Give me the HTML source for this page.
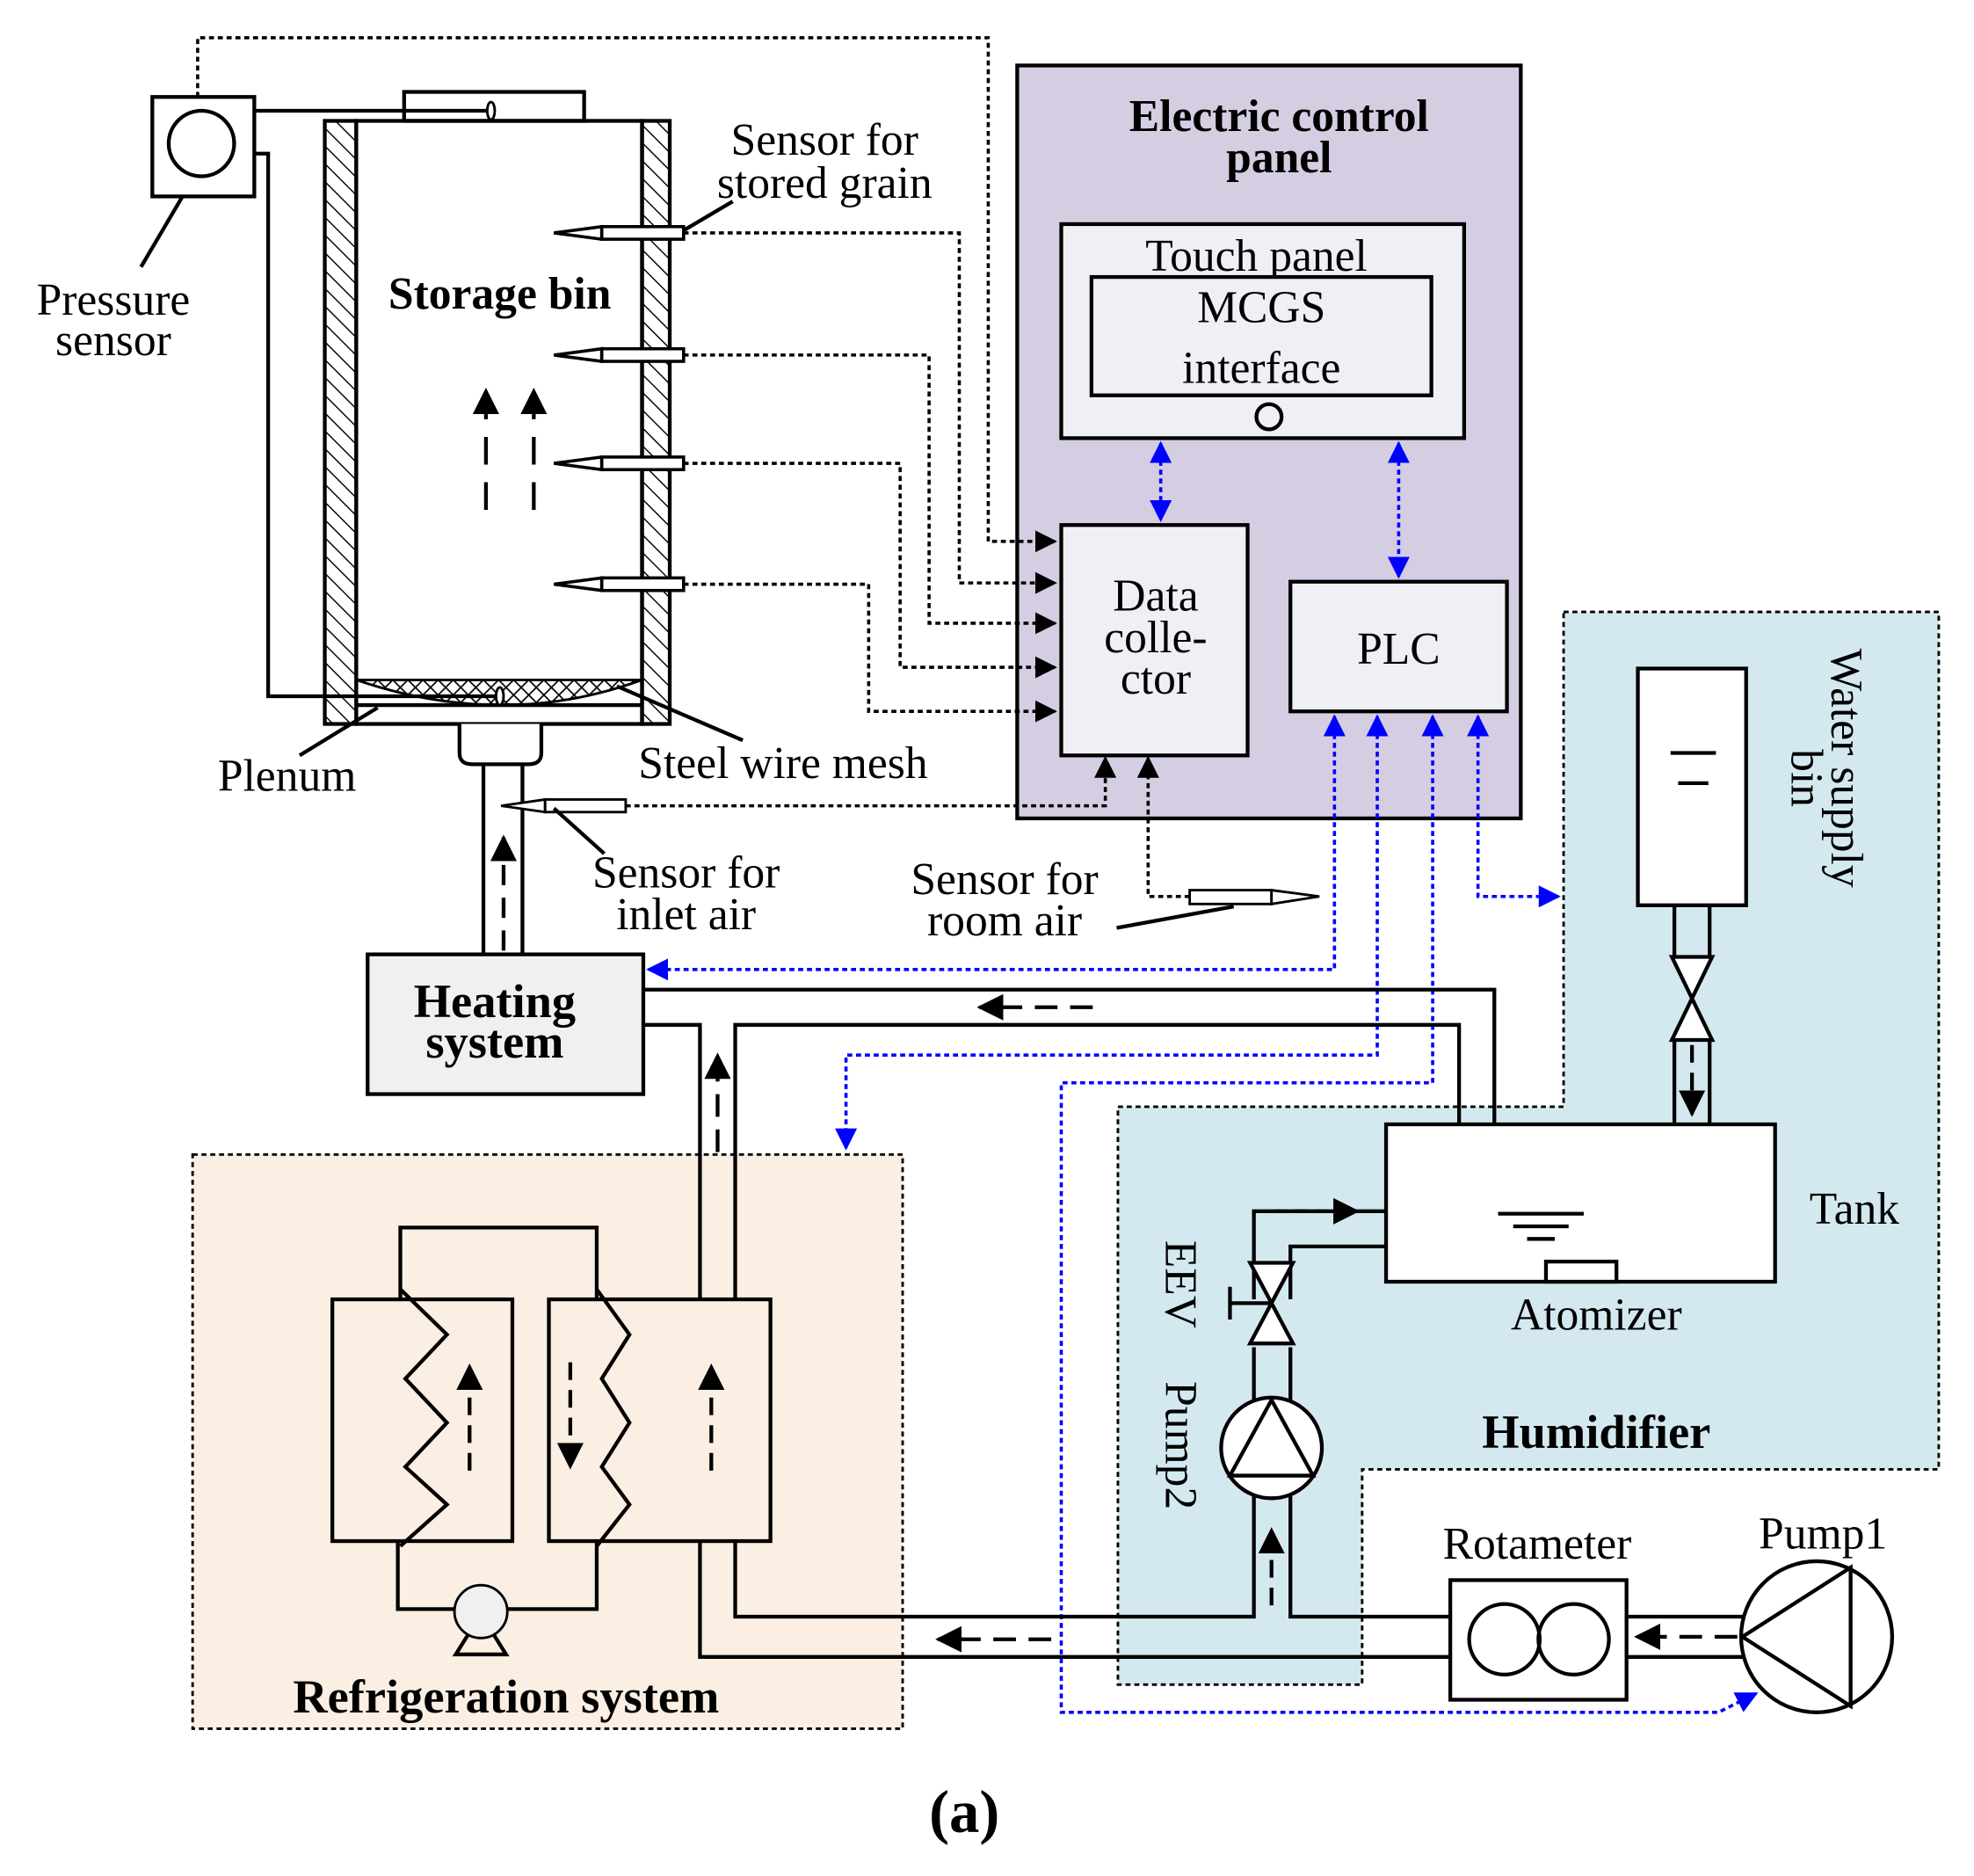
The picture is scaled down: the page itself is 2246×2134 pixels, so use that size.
<!DOCTYPE html>
<html><head><meta charset="utf-8"><style>
html,body{margin:0;padding:0;background:#fff}
svg{display:block}
text{font-family:"Liberation Serif","Times New Roman",serif;fill:#000}
</style></head><body>
<svg width="2246" height="2134" viewBox="0 0 1568 1490" preserveAspectRatio="none" font-family="Liberation Serif, serif" xmlns="http://www.w3.org/2000/svg">
<defs>
<marker id="ab" viewBox="0 0 10 10" refX="9" refY="5" markerWidth="7" markerHeight="7" orient="auto-start-reverse"><path d="M0,0 L10,5 L0,10 z" fill="#000"/></marker>
<marker id="bb" viewBox="0 0 10 10" refX="9" refY="5" markerWidth="7" markerHeight="7" orient="auto-start-reverse"><path d="M0,0 L10,5 L0,10 z" fill="#00f"/></marker>
<pattern id="hatch" width="10" height="10" patternUnits="userSpaceOnUse" patternTransform="rotate(-45)"><rect width="10" height="10" fill="#fff"/><line x1="0" y1="0" x2="0" y2="10" stroke="#000" stroke-width="2"/></pattern>
<pattern id="mesh" width="12" height="12" patternUnits="userSpaceOnUse"><path d="M0,0 L12,12 M12,0 L0,12" stroke="#000" stroke-width="1.2"/></pattern>
</defs>
<rect x="808" y="52" width="400" height="598" fill="#d5cde1" stroke="#000" stroke-width="3"/>
<path d="M1242,486 H1540 V1167 H1082 V1338 H888 V879 H1242 Z" fill="#d3e9ef" stroke="#000" stroke-width="2" stroke-dasharray="4,3"/>
<rect x="153" y="917" width="564" height="456" fill="#fbeee3" stroke="#000" stroke-width="2" stroke-dasharray="4,3"/>

<rect x="121" y="77" width="81" height="79" fill="#fff" stroke="#000" stroke-width="3"/>
<circle cx="160" cy="114" r="26" fill="none" stroke="#000" stroke-width="3"/>
<line x1="145" y1="156" x2="112" y2="212" stroke="#000" stroke-width="3"/>
<text x="90" y="250" font-size="36" text-anchor="middle">Pressure</text>
<text x="90" y="282" font-size="36" text-anchor="middle">sensor</text>
<path d="M157,77 V30 H785 V430 H838" fill="none" stroke="#000" stroke-width="2.5" stroke-dasharray="4,3" marker-end="url(#ab)"/>

<rect x="321" y="73" width="143" height="23" fill="#fff" stroke="#000" stroke-width="3"/>
<rect x="258" y="96" width="25" height="479" fill="url(#hatch)" stroke="#000" stroke-width="3"/>
<rect x="510" y="96" width="22" height="479" fill="url(#hatch)" stroke="#000" stroke-width="3"/>
<rect x="283" y="96" width="227" height="479" fill="none" stroke="#000" stroke-width="3"/>
<path d="M283,540 H510 Q400,580 283,540 Z" fill="url(#mesh)" stroke="#000" stroke-width="2"/>
<line x1="283" y1="560" x2="510" y2="560" stroke="#000" stroke-width="3"/>
<path d="M202,88 H390 M202,122 H213 V553 H400" fill="none" stroke="#000" stroke-width="3"/>
<ellipse cx="390" cy="88" rx="3" ry="7" fill="#fff" stroke="#000" stroke-width="2"/>
<ellipse cx="397" cy="553" rx="3" ry="7" fill="#fff" stroke="#000" stroke-width="2"/>
<text x="397" y="245" font-size="36" font-weight="bold" text-anchor="middle">Storage bin</text>
<line x1="386" y1="405" x2="386" y2="310" stroke="#000" stroke-width="3" stroke-dasharray="22,14" marker-end="url(#ab)"/>
<line x1="424" y1="405" x2="424" y2="310" stroke="#000" stroke-width="3" stroke-dasharray="22,14" marker-end="url(#ab)"/>
<line x1="238" y1="600" x2="300" y2="562" stroke="#000" stroke-width="3"/>
<text x="228" y="628" font-size="36" text-anchor="middle">Plenum</text>
<line x1="590" y1="588" x2="490" y2="545" stroke="#000" stroke-width="3"/>
<text x="622" y="618" font-size="36" text-anchor="middle">Steel wire mesh</text>

<g stroke="#000" stroke-width="2.5" fill="#fff">
<path d="M440,185 L478,180 V190 Z"/><rect x="478" y="180" width="65" height="10"/>
<path d="M440,282 L478,277 V287 Z"/><rect x="478" y="277" width="65" height="10"/>
<path d="M440,368 L478,363 V373 Z"/><rect x="478" y="363" width="65" height="10"/>
<path d="M440,464 L478,459 V469 Z"/><rect x="478" y="459" width="65" height="10"/>
</g>
<line x1="543" y1="183" x2="582" y2="160" stroke="#000" stroke-width="3"/>
<text x="655" y="123" font-size="36" text-anchor="middle">Sensor for</text>
<text x="655" y="157" font-size="36" text-anchor="middle">stored grain</text>
<g fill="none" stroke="#000" stroke-width="2.5" stroke-dasharray="4,3" marker-end="url(#ab)">
<path d="M543,185 H762 V463 H838"/>
<path d="M543,282 H738 V495 H838"/>
<path d="M543,368 H715 V530 H838"/>
<path d="M543,464 H690 V565 H838"/>
</g>

<path d="M365,575 V598 Q365,607 375,607 H420 Q430,607 430,598 V575" fill="#fff" stroke="#000" stroke-width="3"/>
<path d="M384,607 V758 M415,607 V758" stroke="#000" stroke-width="3"/>
<line x1="400" y1="755" x2="400" y2="665" stroke="#000" stroke-width="3" stroke-dasharray="16,10" marker-end="url(#ab)"/>
<path d="M398,640 L433,635 V645 Z" fill="#fff" stroke="#000" stroke-width="2"/><rect x="433" y="635" width="64" height="10" fill="#fff" stroke="#000" stroke-width="2"/>
<line x1="440" y1="642" x2="480" y2="678" stroke="#000" stroke-width="3"/>
<text x="545" y="705" font-size="36" text-anchor="middle">Sensor for</text>
<text x="545" y="738" font-size="36" text-anchor="middle">inlet air</text>
<path d="M497,640 H878 V602" fill="none" stroke="#000" stroke-width="2.5" stroke-dasharray="4,3" marker-end="url(#ab)"/>

<rect x="945" y="707" width="65" height="11" fill="#fff" stroke="#000" stroke-width="2"/><path d="M1010,707 L1048,712 L1010,718 Z" fill="#fff" stroke="#000" stroke-width="2"/>
<path d="M945,712 H912 V602" fill="none" stroke="#000" stroke-width="2.5" stroke-dasharray="4,3" marker-end="url(#ab)"/>
<line x1="887" y1="737" x2="980" y2="720" stroke="#000" stroke-width="3"/>
<text x="798" y="710" font-size="36" text-anchor="middle">Sensor for</text>
<text x="798" y="743" font-size="36" text-anchor="middle">room air</text>

<text x="1016" y="104" font-size="36" font-weight="bold" text-anchor="middle">Electric control</text>
<text x="1016" y="137" font-size="36" font-weight="bold" text-anchor="middle">panel</text>
<rect x="843" y="178" width="320" height="170" fill="#eef0f5" stroke="#000" stroke-width="3"/>
<text x="998" y="215" font-size="36" text-anchor="middle">Touch panel</text>
<rect x="867" y="220" width="270" height="94" fill="#eef0f5" stroke="#000" stroke-width="3"/>
<text x="1002" y="256" font-size="36" text-anchor="middle">MCGS</text>
<text x="1002" y="304" font-size="36" text-anchor="middle">interface</text>
<circle cx="1008" cy="331" r="10" fill="none" stroke="#000" stroke-width="3"/>
<rect x="843" y="417" width="148" height="183" fill="#eef0f5" stroke="#000" stroke-width="3"/>
<text x="918" y="485" font-size="36" text-anchor="middle">Data</text>
<text x="918" y="518" font-size="36" text-anchor="middle">colle-</text>
<text x="918" y="551" font-size="36" text-anchor="middle">ctor</text>
<rect x="1025" y="462" width="172" height="103" fill="#eef0f5" stroke="#000" stroke-width="3"/>
<text x="1111" y="527" font-size="36" text-anchor="middle">PLC</text>
<g fill="none" stroke="#00f" stroke-width="2.5" stroke-dasharray="4,3" marker-start="url(#bb)" marker-end="url(#bb)">
<line x1="922" y1="352" x2="922" y2="413"/>
<line x1="1111" y1="352" x2="1111" y2="458"/>
</g>
<g fill="none" stroke="#00f" stroke-width="2.5" stroke-dasharray="4,3">
<path d="M1060,569 V770 H515" marker-start="url(#bb)" marker-end="url(#bb)"/>
<path d="M1094,569 V838 H672 V912" marker-start="url(#bb)" marker-end="url(#bb)"/>
<path d="M1138,569 V860 H843 V1360 H1365 L1395,1345" marker-start="url(#bb)" marker-end="url(#bb)"/>
<path d="M1174,569 V712 H1238" marker-start="url(#bb)" marker-end="url(#bb)"/>
</g>

<rect x="292" y="758" width="219" height="111" fill="#f0f0f0" stroke="#000" stroke-width="3"/>
<text x="393" y="808" font-size="38" font-weight="bold" text-anchor="middle">Heating</text>
<text x="393" y="840" font-size="38" font-weight="bold" text-anchor="middle">system</text>

<g fill="none" stroke="#000" stroke-width="3">
<path d="M511,786 H1187 V893"/>
<path d="M511,814 H556 V1032"/>
<path d="M584,1032 V814 H1159 V893"/>
<path d="M584,1224 V1284 H996 V1070"/>
<path d="M556,1224 V1316 H1152"/>
<path d="M1025,1070 V1284 H1152"/>
<path d="M1292,1284 H1384 M1292,1316 H1384"/>
<path d="M1330,719 V760 M1358,719 V760 M1330,826 V893 M1358,826 V893"/>
<path d="M996,1032 V962 H1101 M1025,1032 V990 H1101"/>
</g>
<line x1="868" y1="800" x2="778" y2="800" stroke="#000" stroke-width="3" stroke-dasharray="18,10" marker-end="url(#ab)"/>
<line x1="570" y1="915" x2="570" y2="838" stroke="#000" stroke-width="3" stroke-dasharray="18,10" marker-end="url(#ab)"/>
<line x1="835" y1="1302" x2="745" y2="1302" stroke="#000" stroke-width="3" stroke-dasharray="18,10" marker-end="url(#ab)"/>
<line x1="1380" y1="1300" x2="1300" y2="1300" stroke="#000" stroke-width="3" stroke-dasharray="18,10" marker-end="url(#ab)"/>
<line x1="1010" y1="1275" x2="1010" y2="1215" stroke="#000" stroke-width="3" stroke-dasharray="14,8" marker-end="url(#ab)"/>
<line x1="1344" y1="830" x2="1344" y2="885" stroke="#000" stroke-width="3" stroke-dasharray="14,8" marker-end="url(#ab)"/>
<path d="M1012,962 H1078" stroke="#000" stroke-width="3" stroke-dasharray="10,6" marker-end="url(#ab)"/>

<g fill="none" stroke="#000" stroke-width="3">
<rect x="264" y="1032" width="143" height="192"/>
<rect x="436" y="1032" width="176" height="192"/>
<path d="M318,1032 V975 H474 V1032"/>
<path d="M316,1224 V1278 H361 M403,1278 H474 V1224"/>
<path d="M318,1024 L355,1060 L322,1095 L355,1130 L322,1165 L355,1195 L318,1228"/>
<path d="M474,1024 L500,1060 L478,1095 L500,1130 L478,1165 L500,1195 L474,1228"/>
</g>
<circle cx="382" cy="1280" r="21" fill="#f0f0f0" stroke="#000" stroke-width="2"/>
<path d="M372,1298 L362,1314 H402 L392,1298" fill="none" stroke="#000" stroke-width="3"/>
<line x1="373" y1="1168" x2="373" y2="1085" stroke="#000" stroke-width="3" stroke-dasharray="14,8" marker-end="url(#ab)"/>
<line x1="565" y1="1168" x2="565" y2="1085" stroke="#000" stroke-width="3" stroke-dasharray="14,8" marker-end="url(#ab)"/>
<line x1="453" y1="1082" x2="453" y2="1165" stroke="#000" stroke-width="3" stroke-dasharray="14,8" marker-end="url(#ab)"/>
<text x="402" y="1360" font-size="38" font-weight="bold" text-anchor="middle">Refrigeration system</text>

<rect x="1301" y="531" width="86" height="188" fill="#fff" stroke="#000" stroke-width="3"/>
<path d="M1327,598 H1363 M1333,622 H1357" stroke="#000" stroke-width="3"/>
<path d="M1328,760 L1360,826 H1328 L1360,760 Z" fill="#fff" stroke="#000" stroke-width="3"/>
<text transform="translate(1455,515) rotate(90)" font-size="36" text-anchor="start">Water supply</text>
<text transform="translate(1423,595) rotate(90)" font-size="36" text-anchor="start">bin</text>
<rect x="1101" y="893" width="309" height="125" fill="#fff" stroke="#000" stroke-width="3"/>
<path d="M1190,964 H1258 M1202,974 H1246 M1213,984 H1235" stroke="#000" stroke-width="3"/>
<rect x="1228" y="1002" width="56" height="16" fill="#fff" stroke="#000" stroke-width="3"/>
<text x="1473" y="972" font-size="36" text-anchor="middle">Tank</text>
<text x="1268" y="1056" font-size="36" text-anchor="middle">Atomizer</text>
<path d="M993,1003 L1027,1067 H993 L1027,1003 Z" fill="#fff" stroke="#000" stroke-width="3"/>
<path d="M977,1035 H1010 M977,1022 V1048" stroke="#000" stroke-width="3"/>
<text transform="translate(926,985) rotate(90)" font-size="36">EEV</text>
<text transform="translate(926,1097) rotate(90)" font-size="36">Pump2</text>
<circle cx="1010" cy="1150" r="40" fill="#fff" stroke="#000" stroke-width="3"/>
<path d="M1010,1112 L977,1172 H1043 Z" fill="none" stroke="#000" stroke-width="3"/>
<text x="1268" y="1150" font-size="38" font-weight="bold" text-anchor="middle">Humidifier</text>
<rect x="1152" y="1255" width="140" height="95" fill="#fff" stroke="#000" stroke-width="3"/>
<circle cx="1195" cy="1302" r="28" fill="none" stroke="#000" stroke-width="3"/>
<circle cx="1250" cy="1302" r="28" fill="none" stroke="#000" stroke-width="3"/>
<text x="1221" y="1238" font-size="36" text-anchor="middle">Rotameter</text>
<circle cx="1443" cy="1300" r="60" fill="#fff" stroke="#000" stroke-width="3"/>
<path d="M1470,1245 L1384,1300 L1470,1355 Z" fill="none" stroke="#000" stroke-width="3"/>
<text x="1448" y="1230" font-size="36" text-anchor="middle">Pump1</text>

<text x="766" y="1455" font-size="48" font-weight="bold" text-anchor="middle">(a)</text>
</svg>
</body></html>
